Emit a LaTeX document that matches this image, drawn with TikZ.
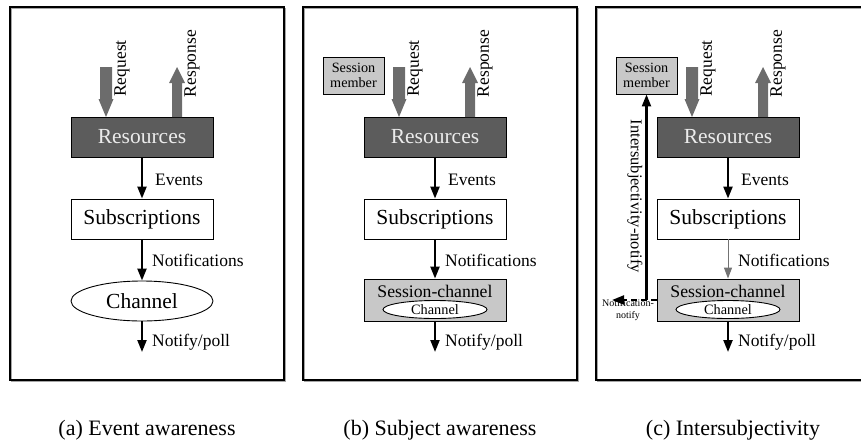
\documentclass[tikz,border=0pt]{standalone}
\usepackage{fontspec}
\setmainfont{Liberation Serif}
\usetikzlibrary{arrows.meta,shapes.geometric}
\definecolor{darkbox}{HTML}{5C5C5C}
\definecolor{lightbox}{HTML}{C8C8C8}
\definecolor{blockarrow}{HTML}{6C6C6C}
\tikzset{
  panelframe/.style={draw=black,line width=1.3pt},
  panelshadow/.style={draw=black!35,line width=1.3pt},
  mainbox/.style={draw=black,line width=0.9pt,minimum width=142pt,minimum height=40pt,inner sep=0pt,font=\fontsize{21.5}{24}\selectfont},
  resbox/.style={mainbox,fill=darkbox,text=black!8},
  subbox/.style={mainbox,fill=white},
  chanell/.style={mainbox,ellipse,fill=white},
  scbox/.style={draw=black,line width=0.9pt,fill=lightbox,minimum width=142pt,minimum height=42pt,inner sep=0pt},
  innerell/.style={draw=black,line width=0.9pt,ellipse,fill=white,minimum width=104pt,minimum height=18pt,inner sep=0pt,font=\fontsize{14.3}{16}\selectfont},
  smbox/.style={draw=black,line width=0.9pt,fill=lightbox,minimum width=61pt,minimum height=37pt,inner sep=0pt,align=center,font=\fontsize{14.2}{15.5}\selectfont},
  flow/.style={-{Triangle[width=9pt,length=12pt]},line width=2.2pt},
  thinflow/.style={-{Triangle[width=8pt,length=11pt]},line width=1pt,draw=black!55,color=black!55},
  lbl/.style={font=\fontsize{17.5}{20}\selectfont,anchor=west,inner sep=0pt},
  vlbl/.style={font=\fontsize{17.5}{20}\selectfont,inner sep=0pt},
  blockarr/.style={fill=blockarrow,draw=none},
  capt/.style={font=\fontsize{22}{24}\selectfont,inner sep=0pt},
}
\begin{document}
\begin{tikzpicture}[x=1pt,y=-1pt]
\useasboundingbox (0,0) rectangle (861,445);
\clip (0,0) rectangle (861,445);
\foreach \p/\dx/\cap in {a/0/Event awareness,b/293/Subject awareness,c/586/Intersubjectivity}{
  \begin{scope}[xshift=\dx pt]
    \draw[panelshadow] (11.2,8.2) rectangle (285.2,381.2);
    \draw[panelframe] (10,7) rectangle (284,380);
    \node[resbox] (res\p) at (142,137) {Resources};
    \node[subbox] (sub\p) at (142,219) {Subscriptions};
    \fill[blockarr] (100,67) -- (112,67) -- (112,99) -- (113.5,99) -- (106,117) -- (98.5,99) -- (100,99) -- cycle;
    \fill[blockarr] (172,117) -- (182,117) -- (182,83) -- (185,83) -- (177,67) -- (169,83) -- (172,83) -- cycle;
    \node[vlbl,rotate=90] (req\p) at (122,68.5) {Request};
    \node[vlbl,rotate=90] (resp\p) at (192,63.5) {Response};
    \draw[flow] (res\p.south) -- (sub\p.north);
    \node[lbl] (ev\p) at (155,180) {Events};
    \node[lbl] (nt\p) at (152,260) {Notifications};
    \coordinate (end\p) at (142,352);
    \node[lbl] (np\p) at (152,342) {Notify/poll};
    \node[capt] (cap\p) at (147,430) {(\p) \cap};
  \end{scope}
}
% panel (a)
\node[chanell] (cha) at (142,301) {Channel};
\draw[flow] (suba.south) -- (cha.north);
\draw[flow] (cha.south) -- (enda);
% panel (b)
\node[smbox] (smb) at (353.5,75.5) {Session\\member};
\node[scbox] (scb) at (435,300) {};
\node[font=\fontsize{17.7}{20}\selectfont,inner sep=0pt] (sctb) at (435,291) {Session-channel};
\node[innerell] (chb) at (435,309.5) {Channel};
\draw[flow] (subb.south) -- (scb.north);
\draw[flow] (scb.south) -- (endb);
% panel (c)
\node[smbox] (smc) at (646.5,75.5) {Session\\member};
\node[scbox] (scc) at (728,300) {};
\node[font=\fontsize{17.7}{20}\selectfont,inner sep=0pt] (sctc) at (728,291) {Session-channel};
\node[innerell] (chc) at (728,309.5) {Channel};
\draw[thinflow] (subc.south) -- (scc.north);
\draw[flow] (scc.south) -- (endc);
\coordinate (nn) at (612,300);
\draw[flow,dashed,dash pattern=on 6pt off 4pt] (scc.west) -- (nn);
\draw[flow] (smc.south |- scc.west) -- (smc.south);
\node[font=\fontsize{16.5}{18}\selectfont,inner sep=0pt,rotate=-90] (isn) at (635,196.5) {Intersubjectivity-notify};
\node[font=\fontsize{10}{11.5}\selectfont,inner sep=0pt,align=center] (nnl) at (628,310) {Notification-\\notify};
\end{tikzpicture}
\end{document}
